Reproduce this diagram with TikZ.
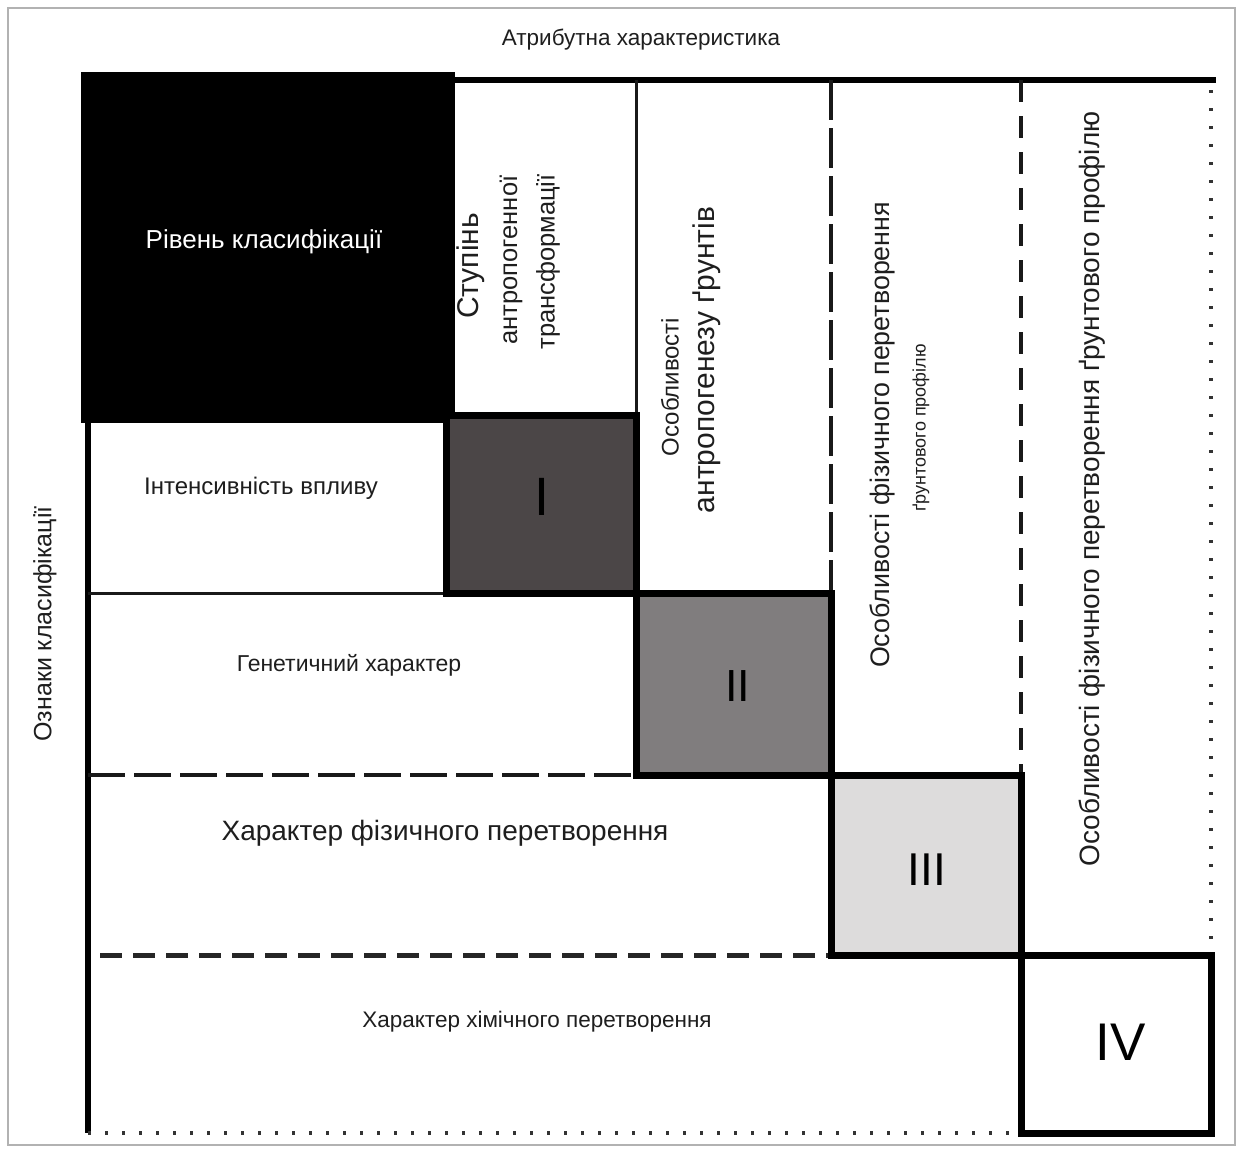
\documentclass[tikz,border=0pt]{standalone}
\usepackage{fontspec}
\setmainfont{Liberation Sans}
\newcommand\myfs[1]{\fontsize{#1}{#1}\selectfont}
\definecolor{boxone}{HTML}{4B4647}
\definecolor{boxtwo}{HTML}{807D7E}
\definecolor{boxthree}{HTML}{DDDCDC}
\definecolor{txt}{HTML}{1E1E1E}
\tikzset{
  every node/.style={inner sep=0pt, text=txt},
  numbox/.style={draw=black, line width=7pt, line join=miter},
  numeral/.style={text=black},
  vlbl/.style={rotate=90},
  solidsep/.style={line width=3pt, draw=black!90},
  dashsep/.style={line width=3.5pt, draw=black!90, dash pattern=on 37pt off 9pt},
  dotsep/.style={line width=3.5pt, draw=black!80, dash pattern=on 3pt off 14pt},
}
\begin{document}
\begin{tikzpicture}[x=1pt,y=-1pt]
\useasboundingbox (0,0) rectangle (1243,1149);
\fill[white] (0,0) rectangle (1243,1149);
% outer frame
\draw[gray!60, line width=1.5pt] (8,8) rectangle (1235,1145);

% title
\node[font=\myfs{22.5}] (title) at (641,40) {Атрибутна характеристика};

% black header box
\fill[black] (81,72) rectangle (455,423);
\node[font=\myfs{26}, text=white] (rivn) at (264,242) {Рівень класифікації};

% coordinates
\coordinate (topL) at (455,80);
\coordinate (topR) at (1216,80);
\coordinate (c1t) at (636.5,80);
\coordinate (c1b) at (636.5,415.5);
\coordinate (c2t) at (831,80);
\coordinate (c2b) at (831,593.5);
\coordinate (c3t) at (1021,80);
\coordinate (c3b) at (1021,775);
\coordinate (c4t) at (1211,90);
\coordinate (c4b) at (1211,952);
\coordinate (lt) at (88,423);
\coordinate (lb) at (88,1133);
\coordinate (r1l) at (88,593.5);
\coordinate (r1r) at (446.5,593.5);
\coordinate (r2l) at (88,775);
\coordinate (r2r) at (636.5,775);
\coordinate (r3l) at (100,955);
\coordinate (r3r) at (831,955);
\coordinate (r4l) at (88,1133);
\coordinate (r4r) at (1021,1133);

% column separators
\draw[line width=6pt] (topL) -- (topR);
\draw[solidsep] (c1t) -- (c1b);
\draw[line width=3.5pt, draw=black!90, dash pattern=on 40pt off 8pt] (c2t) -- (c2b);
\draw[line width=4pt, draw=black!90, dash pattern=on 22pt off 14pt] (c3t) -- (c3b);
\draw[dotsep, dash pattern=on 3pt off 15pt] (c4t) -- (c4b);

% row separators
\draw[line width=6pt] (lt) -- (lb);
\draw[solidsep] (r1l) -- (r1r);
\draw[dashsep] (r2l) -- (r2r);
\draw[line width=5pt, draw=black!85, dash pattern=on 22pt off 11pt] (r3l) -- (r3r);
\draw[dotsep] (r4l) -- (r4r);

% diagonal boxes
\filldraw[numbox, fill=boxone] (446.5,415.5) rectangle (636.5,593.5);
\filldraw[numbox, fill=boxtwo] (636.5,593.5) rectangle (831,775);
\filldraw[numbox, fill=boxthree] (831,775) rectangle (1021,955);
\filldraw[numbox, fill=white] (1021,955) rectangle (1211,1133);

\node[numeral, font=\myfs{54}] (n1) at (542,497) {I};
\node[numeral, font=\myfs{45}] (n2) at (737.5,686) {II};
\node[numeral, font=\myfs{46}] (n3) at (927,870) {III};
\node[numeral, font=\myfs{53}] (n4) at (1121,1042) {IV};

% column headers (vertical)
\node[vlbl, font=\myfs{30}] (stup) at (471,266) {Ступінь};
\node[vlbl, font=\myfs{25.5}] (antr) at (511,260) {антропогенної};
\node[vlbl, font=\myfs{25.5}] (trans) at (548,262) {трансформації};
\node[vlbl, font=\myfs{24}] (osob1) at (670,387) {Особливості};
\node[vlbl, font=\myfs{30}] (antrg) at (707,360) {антропогенезу ґрунтів};
\node[vlbl, font=\myfs{26.8}] (osob2) at (882,435) {Особливості фізичного перетворення};
\node[vlbl, font=\myfs{18}] (grunt) at (921,428) {ґрунтового профілю};
\node[vlbl, font=\myfs{28}] (osob3) at (1092,489) {Особливості фізичного перетворення ґрунтового профілю};

% row headers
\node[vlbl, font=\myfs{25}] (oznak) at (45,624) {Ознаки класифікації};
\node[font=\myfs{24}] (intens) at (261,488) {Інтенсивність впливу};
\node[font=\myfs{23}] (genet) at (349,665) {Генетичний характер};
\node[font=\myfs{28}] (fiz) at (445,833) {Характер фізичного перетворення};
\node[font=\myfs{22.5}] (chim) at (537,1022) {Характер хімічного перетворення};
\end{tikzpicture}
\end{document}
